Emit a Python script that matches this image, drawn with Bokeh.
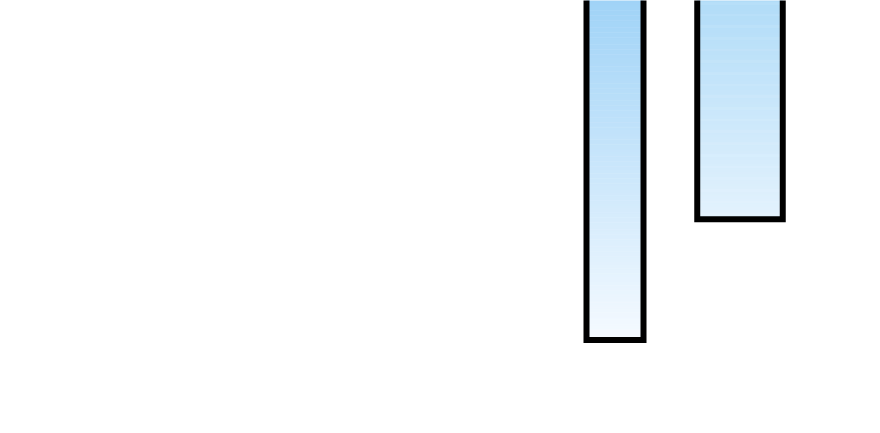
from bokeh.plotting import figure
from bokeh.models import Range1d
from bokeh.embed import file_html
from bokeh.resources import INLINE

# ---- data ----
bar_names = ["A", "B"]
bar_centers = [614.5, 739.5]
bar_widths = [57.0, 85.5]
bar_bottoms = [93.5, 214.3]
bar_tops = [470.0, 470.0]

# ---- style ----
grad_top = [(0xA0, 0xD3, 0xF7), (0xB1, 0xDC, 0xF8)]
grad_bottom = [(0xF5, 0xFA, 0xFF), (0xE3, 0xF2, 0xFD)]
W, H = 880, 433
N_SLICES = 200

p = figure(width=W, height=H, output_backend="svg", toolbar_location=None,
           x_range=Range1d(0, W), y_range=Range1d(0, H),
           x_axis_type=None, y_axis_type=None, min_border=0)
p.outline_line_color = None
p.background_fill_color = "white"
p.border_fill_color = "white"

def hexc(c):
    return "#%02x%02x%02x" % tuple(int(round(v)) for v in c)

for i in range(len(bar_names)):
    left = bar_centers[i] - bar_widths[i] / 2
    right = bar_centers[i] + bar_widths[i] / 2
    vis_top = min(bar_tops[i], p.y_range.end)
    bot = bar_bottoms[i]
    step = (vis_top - bot) / N_SLICES
    tops, bots, cols = [], [], []
    for k in range(N_SLICES):
        t = k / (N_SLICES - 1)
        col = [grad_top[i][j] + (grad_bottom[i][j] - grad_top[i][j]) * t for j in range(3)]
        tops.append(vis_top - k * step + 0.5)
        bots.append(vis_top - (k + 1) * step)
        cols.append(hexc(col))
    p.quad(left=[left] * N_SLICES, right=[right] * N_SLICES, top=tops, bottom=bots,
           fill_color=cols, line_color=None)
    p.quad(left=[left], right=[right], top=[bar_tops[i]], bottom=[bot],
           fill_color=None, line_color="black", line_width=6, line_join="miter")

open("out.html", "w").write(file_html(p, INLINE))
